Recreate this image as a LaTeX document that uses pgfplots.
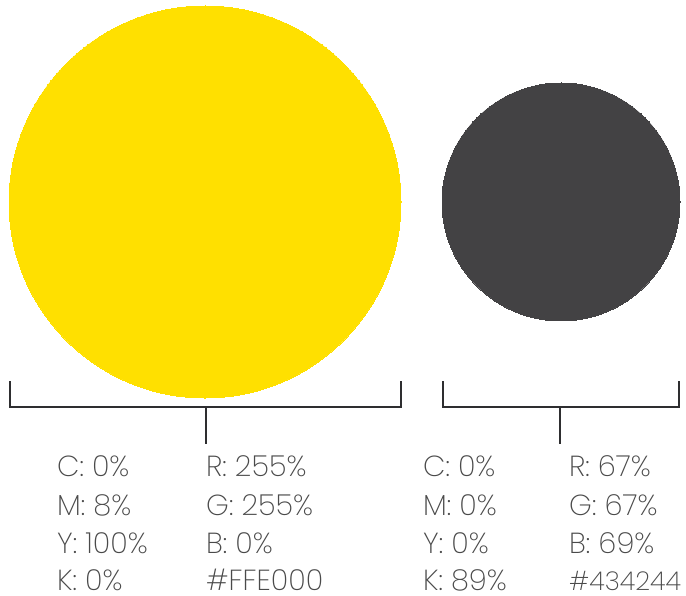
\documentclass[border=0pt]{standalone}
\usepackage{fontspec}
\setmainfont{Poppins ExtraLight}
\usepackage{pgfplots}
\pgfplotsset{compat=1.18}
\definecolor{swyellow}{HTML}{FFE000}
\definecolor{swdark}{HTML}{434244}
\definecolor{lbl}{HTML}{4A4A4A}
\definecolor{brk}{HTML}{2E2E30}
\begin{document}
\begin{tikzpicture}
\begin{axis}[
    x=1pt, y=1pt,
    xmin=0, xmax=686, ymin=0, ymax=596,
    y dir=reverse,
    hide axis, clip=false,
    scale only axis,
]
% swatches
\addplot[only marks, mark=*, mark size=196pt, color=swyellow,
    mark options={draw=swyellow, fill=swyellow, line width=0pt}] coordinates {(205,202)};
\addplot[only marks, mark=*, mark size=119pt, color=swdark,
    mark options={draw=swdark, fill=swdark, line width=0pt}] coordinates {(561,202)};
% brackets
\addplot[brk, line width=2.6pt, mark=none] coordinates {(10,381) (10,407) (401,407) (401,381)};
\addplot[brk, line width=2.6pt, mark=none] coordinates {(206,407) (206,444)};
\addplot[brk, line width=2.6pt, mark=none] coordinates {(443,381) (443,407) (679,407) (679,381)};
\addplot[brk, line width=2.6pt, mark=none] coordinates {(560,407) (560,444)};
% labels
\begin{scope}[every node/.style={anchor=base west, text=lbl, font=\fontsize{29}{29}\selectfont, inner sep=0pt, text depth=0pt}]
\node at (axis cs:57,476) {C: 0\%};
\node at (axis cs:57,515) {M: 8\%};
\node at (axis cs:57,553) {Y: 100\%};
\node at (axis cs:57,590) {K: 0\%};
\node at (axis cs:206,476) {R: 255\%};
\node at (axis cs:206,515) {G: 255\%};
\node at (axis cs:206,553) {B: 0\%};
\node at (axis cs:206,590) {\#FFE000};
\node at (axis cs:423,476) {C: 0\%};
\node at (axis cs:423,515) {M: 0\%};
\node at (axis cs:423,553) {Y: 0\%};
\node at (axis cs:423,590) {K: 89\%};
\node at (axis cs:569,476) {R: 67\%};
\node at (axis cs:569,515) {G: 67\%};
\node at (axis cs:569,553) {B: 69\%};
\node[font=\fontsize{26}{26}\selectfont] at (axis cs:569,590) {\#434244};
\end{scope}
\end{axis}
\pgfresetboundingbox
\path (current axis.south west) rectangle (current axis.north east);
\end{tikzpicture}
\end{document}
